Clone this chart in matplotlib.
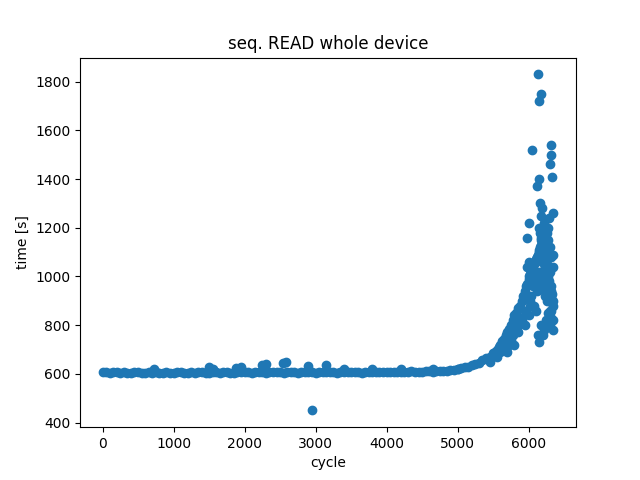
import matplotlib.pyplot as plt
import numpy as np

# baseline region, one reading every 50 cycles from 0 to 5000
base_cycles = np.arange(0, 5001, 50)
base_time = [
    607, 606, 605, 606, 607, 605, 606, 604, 605, 606,
    607, 605, 604, 606, 605, 607, 604, 605, 606, 605,
    604, 606, 607, 605, 604, 606, 605, 607, 606, 604,
    605, 606, 608, 605, 606, 607, 605, 604, 606, 608,
    606, 607, 605, 606, 608, 607, 605, 606, 608, 606,
    607, 605, 608, 606, 607, 605, 606, 608, 607, 606,
    605, 607, 608, 606, 607, 609, 605, 606, 608, 607,
    606, 608, 607, 605, 606, 608, 609, 607, 606, 608,
    607, 606, 609, 608, 607, 606, 608, 610, 607, 609,
    608, 610, 611, 609, 612, 611, 613, 612, 614, 616,
    618,
]

# scattered outliers in the flat part
out_cycles = [720, 1500, 1550, 1880, 1950, 2250, 2300, 2540, 2580, 2900, 2950, 3150, 3400, 3800, 4200, 4650]
out_time = [618, 628, 622, 625, 630, 635, 640, 645, 648, 632, 450, 638, 620, 618, 620, 622]

# rising tail
tail_cycles = [
    5000, 5050, 5100, 5150, 5200, 5250, 5300, 5350, 5400, 5450,
    5500, 5520, 5550, 5580, 5600, 5620, 5650, 5680, 5700, 5720,
    5750, 5780, 5800, 5820, 5850, 5880, 5900, 5920, 5950, 5970,
    5980, 6000, 6010, 6020, 6040, 6050, 6060, 6080, 6100, 6110,
    6120, 6130, 6140, 6150, 6160, 6170, 6180, 6190, 6200, 6210,
    6220, 6230, 6240, 6250, 6260, 6270, 6280, 6290, 6300, 6310,
    6320, 6330, 6340,
]
tail_time = [
    622, 625, 628, 630, 635, 640, 645, 655, 665, 670,
    685, 690, 700, 710, 720, 735, 745, 760, 770, 785,
    800, 820, 840, 850, 870, 880, 900, 920, 940, 960,
    970, 990, 1000, 1010, 1020, 1030, 1040, 1050, 1060, 1070,
    1080, 1090, 1100, 1110, 1120, 1130, 1100, 1090, 1080, 1060,
    1050, 1040, 1030, 1020, 1010, 1000, 990, 980, 960, 940,
    920, 900, 880,
]

# spread around the tail
spread_cycles = [
    5450, 5550, 5600, 5650, 5700, 5750, 5780, 5800, 5850, 5900,
    5950, 5960, 5980, 6000, 6020, 6050, 6060, 6080, 6100, 6120,
    6130, 6140, 6150, 6160, 6170, 6180, 6190, 6200, 6210, 6220,
    6230, 6240, 6250, 6260, 6270, 6280, 6290, 6300, 6310, 6320,
    6330, 6340, 6350, 6130, 6150, 6170, 6200, 6220, 6250, 6280,
    6300, 6320, 6340, 5980, 6000, 6050, 6100, 6180, 6230, 6260,
    6300, 6330, 5700, 5800, 5850, 5900, 5950,
    6150, 6160, 6170, 6180, 6190, 6200, 6210, 6220, 6240, 6260,
    6280, 6300, 6320, 6340, 6150, 6170, 6190, 6210, 6230, 6250,
    6270, 6290, 6310, 6330, 6060, 6080, 6100, 6120, 6140, 6040,
    6020, 6000, 6260, 6280, 6300, 6320, 6340, 6350,
]
spread_time = [
    650, 670, 690, 700, 710, 740, 760, 780, 800, 820,
    800, 850, 1160, 1220, 900, 1520, 960, 880, 860, 1370,
    1830, 1720, 1400, 1300, 1250, 1750, 1280, 1200, 1180, 1220,
    1150, 1100, 1080, 1050, 1120, 1200, 1240, 1460, 1540, 1500,
    1410, 1260, 1090, 760, 730, 800, 760, 780, 820, 850,
    800, 830, 780, 1040, 1060, 980, 1000, 950, 920, 900,
    860, 930, 690, 720, 770, 830, 860,
    1200, 1180, 1160, 1150, 1170, 1140, 1120, 1100, 1160, 1180,
    1150, 1120, 1080, 1040, 950, 980, 1000, 960, 990, 940,
    920, 900, 860, 820, 1000, 980, 960, 940, 1020, 920,
    880, 840, 1000, 960, 1020, 960, 900, 820,
]

x = list(base_cycles) + out_cycles + tail_cycles + spread_cycles
y = base_time + out_time + tail_time + spread_time

fig, ax = plt.subplots(figsize=(6.4, 4.8), dpi=100)
ax.scatter(x, y, color='#1f77b4')
ax.set_title('seq. READ whole device')
ax.set_xlabel('cycle')
ax.set_ylabel('time [s]')
ax.set_yticks([400, 600, 800, 1000, 1200, 1400, 1600, 1800])
plt.savefig('out.png')
